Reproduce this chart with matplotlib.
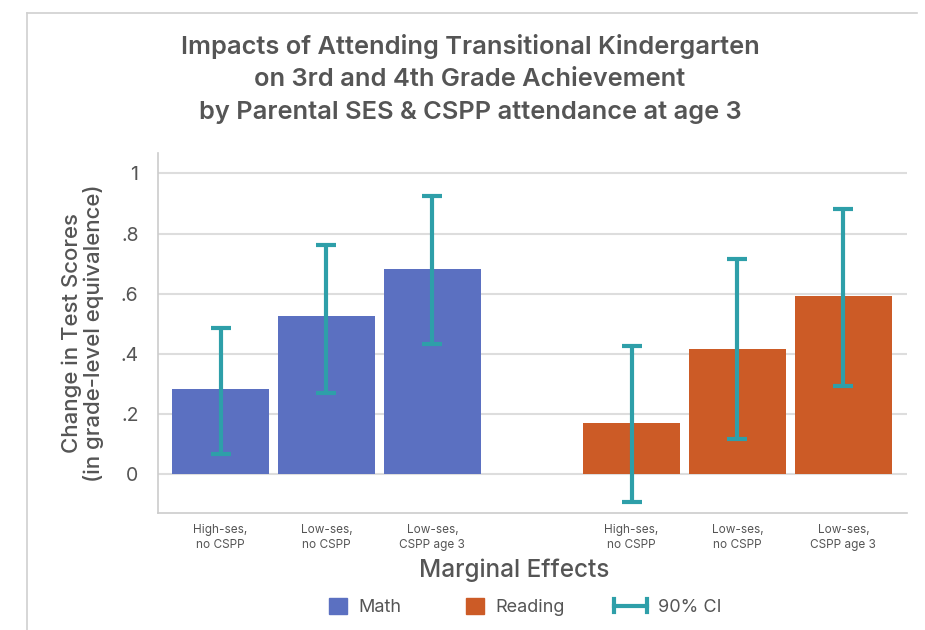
import matplotlib.pyplot as plt
from matplotlib.lines import Line2D
from matplotlib.patches import Patch
from matplotlib.legend_handler import HandlerBase
import numpy as np

plt.rcParams['font.family'] = ['Inter', 'DejaVu Sans']

# Data
groups = ['High-ses,\nno CSPP', 'Low-ses,\nno CSPP', 'Low-ses,\nCSPP age 3']
math_vals = [0.282, 0.525, 0.681]
math_lo = [0.067, 0.269, 0.434]
math_hi = [0.486, 0.761, 0.926]
read_vals = [0.168, 0.415, 0.593]
read_lo = [-0.094, 0.116, 0.293]
read_hi = [0.425, 0.716, 0.883]
yticks = [0, 0.2, 0.4, 0.6, 0.8, 1]
ytick_labels = ['0', '.2', '.4', '.6', '.8', '1']

math_color = '#5b70c1'
read_color = '#cc5b26'
ci_color = '#2e9fa9'
text_color = '#555555'
grid_color = '#dddddd'


class CIHandler(HandlerBase):
    # horizontal bar with end caps, like the CI key in the original
    def create_artists(self, legend, orig_handle, xdescent, ydescent, width, height, fontsize, trans):
        y = height / 2 - ydescent
        x1 = width - xdescent
        x0 = x1 - width * 1.85
        h = height * 0.4
        arts = [Line2D([x0, x1], [y, y], color=ci_color, linewidth=3),
                Line2D([x0, x0], [y - h, y + h], color=ci_color, linewidth=3),
                Line2D([x1, x1], [y - h, y + h], color=ci_color, linewidth=3)]
        for a in arts:
            a.set_transform(trans)
        return arts


fig = plt.figure(figsize=(9.25, 6.3), dpi=100)
ax = fig.add_axes([158 / 925, 1 - 513 / 630, (907 - 158) / 925, (513 - 153) / 630])

x_math = np.arange(3)
x_read = np.arange(3) + 3.88
width = 0.915

ax.bar(x_math, math_vals, width=width, color=math_color, zorder=2)
ax.bar(x_read, read_vals, width=width, color=read_color, zorder=2)

for xs, v, lo, hi in [(x_math, math_vals, math_lo, math_hi), (x_read, read_vals, read_lo, read_hi)]:
    v = np.array(v)
    err = [v - np.array(lo), np.array(hi) - v]
    ax.errorbar(xs, v, yerr=err, fmt='none', ecolor=ci_color, elinewidth=3,
                capsize=7, capthick=3, zorder=3)

ax.set_xlim(-0.59, 6.48)
ax.set_ylim(-0.13, 1.068)
ax.set_yticks(yticks)
ax.set_yticklabels(ytick_labels)
ax.set_xticks(list(x_math) + list(x_read))
ax.set_xticklabels(groups * 2, fontsize=8.5, color=text_color, linespacing=1.3)
ax.tick_params(axis='y', length=0, labelsize=14, colors=text_color, pad=14)
ax.tick_params(axis='x', length=0, pad=8)
ax.yaxis.grid(True, color=grid_color, linewidth=1.5, zorder=0)
ax.set_axisbelow(True)
for s in ['top', 'right']:
    ax.spines[s].set_visible(False)
ax.spines['left'].set_color('#cccccc')
ax.spines['bottom'].set_color('#cccccc')
ax.spines['left'].set_linewidth(1.2)
ax.spines['bottom'].set_linewidth(1.2)

ax.set_ylabel('Change in Test Scores\n(in grade-level equivalence)', fontsize=16,
              color=text_color, linespacing=1.05, labelpad=12, fontweight='medium')
ax.set_xlabel('Marginal Effects', fontsize=17.5, color=text_color, fontweight='medium')
ax.xaxis.set_label_coords((514 - 158) / (907 - 158), -(570 - 513) / (513 - 153))
ax.xaxis.label.set_va('center')

fig.text(0.508, 1 - 79 / 630,
         'Impacts of Attending Transitional Kindergarten\non 3rd and 4th Grade Achievement\nby Parental SES & CSPP attendance at age 3',
         ha='center', va='center', fontsize=18.3, color=text_color, fontweight='semibold',
         linespacing=1.55)

# outer frame of the original image
fig.add_artist(Line2D([27 / 925, 27 / 925], [0, 1 - 13 / 630], transform=fig.transFigure,
                      color='#d0d0d0', linewidth=1.2))
fig.add_artist(Line2D([27 / 925, 917 / 925], [1 - 13 / 630, 1 - 13 / 630], transform=fig.transFigure,
                      color='#d0d0d0', linewidth=1.2))

ci_key = Line2D([], [], color=ci_color)
handles = [Patch(color=math_color), Patch(color=read_color), ci_key]
fig.legend(handles, ['Math', 'Reading', '90% CI'], loc='center', bbox_to_anchor=(0.568, 1 - 607 / 630),
           ncol=3, frameon=False, fontsize=13, labelcolor=text_color, columnspacing=3.6,
           handlelength=1.0, handleheight=1.0, handletextpad=0.6,
           handler_map={ci_key: CIHandler()})

fig.savefig('out.png', dpi=100)
